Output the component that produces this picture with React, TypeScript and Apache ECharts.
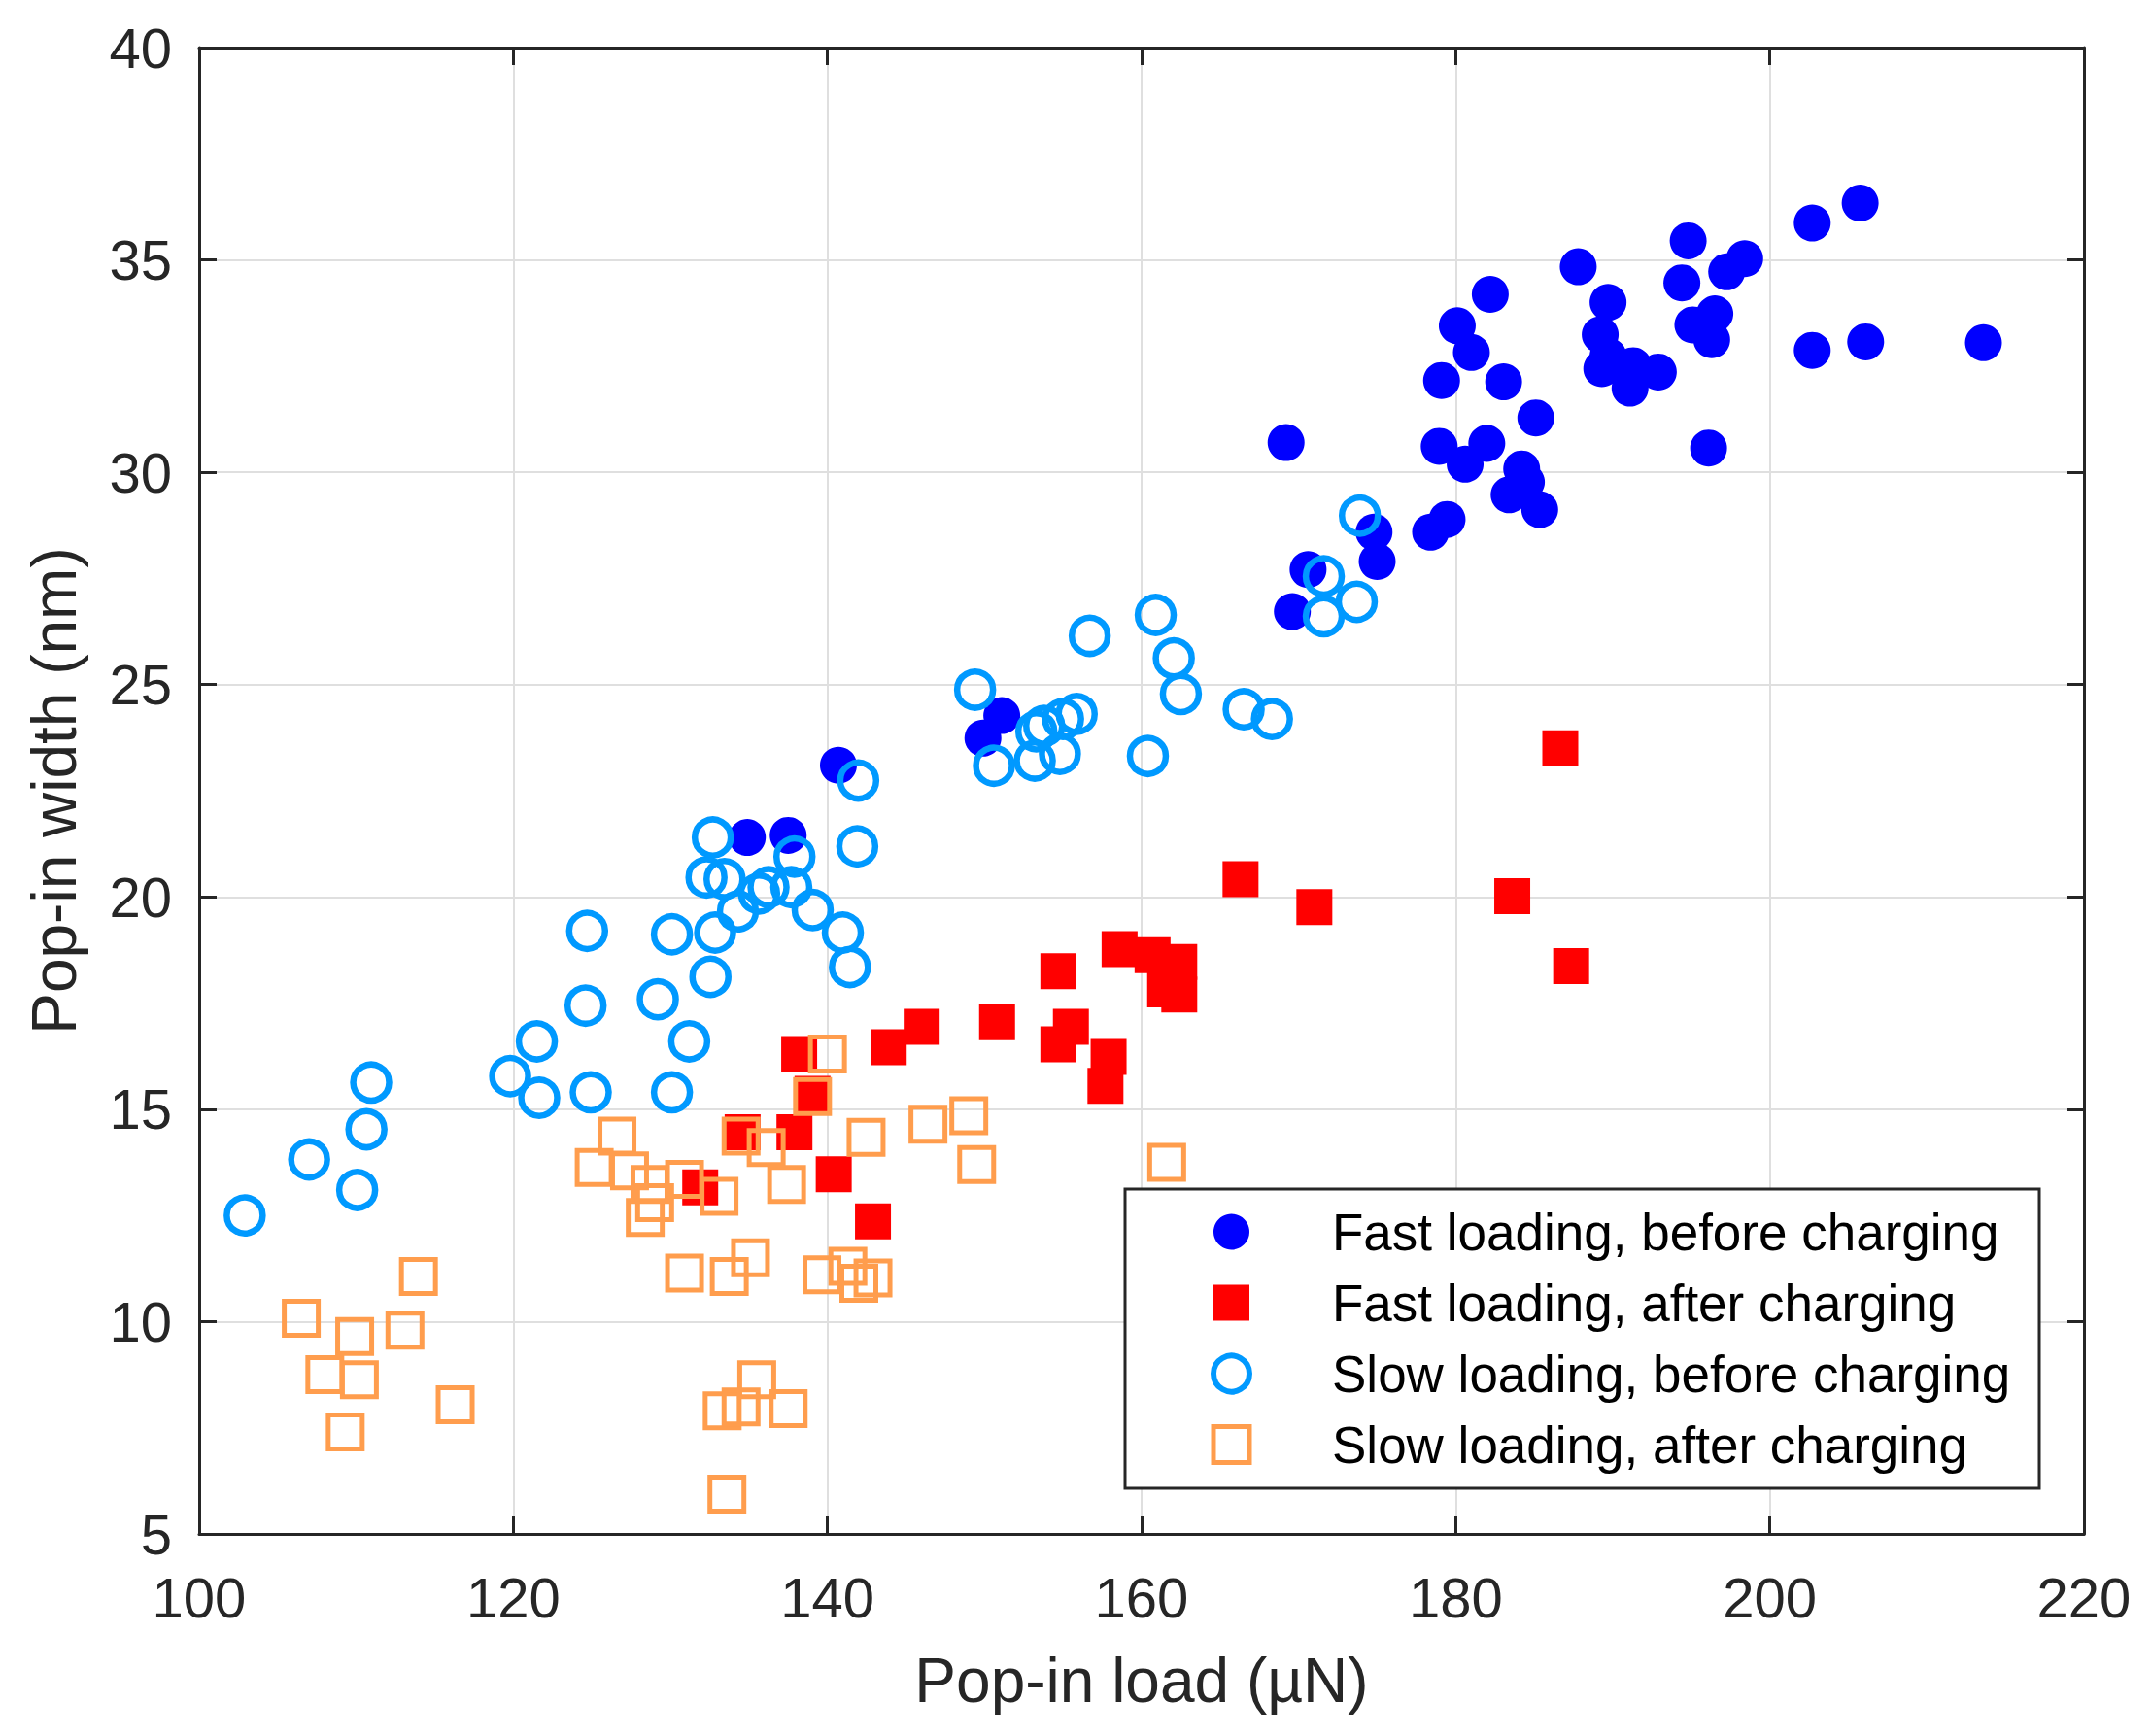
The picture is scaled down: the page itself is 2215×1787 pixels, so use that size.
import React, { useEffect, useRef } from "react";
import * as echarts from "echarts";

const xTicks = { min: 100, max: 220, interval: 20 };
const yTicks = { min: 5, max: 40, interval: 5 };

const seriesNames = [
  "Fast loading, before charging",
  "Fast loading, after charging",
  "Slow loading, before charging",
  "Slow loading, after charging",
];

const fastBefore: [number, number][] = [
  [134.9, 21.4], [137.5, 21.45], [140.7, 23.1], [149.9, 23.74], [151.1, 24.27],
  [169.2, 30.7], [169.6, 26.72], [170.6, 27.71], [174.8, 28.59], [175.0, 27.9],
  [178.4, 28.59], [179.45, 28.89], [178.95, 30.61], [179.1, 32.16], [180.1, 33.45],
  [181.0, 32.82], [180.6, 30.19], [181.98, 30.68], [182.2, 34.19], [183.05, 32.13],
  [183.4, 29.47], [184.2, 30.08], [184.5, 29.77], [185.35, 29.12], [185.1, 31.28],
  [187.8, 34.84], [189.7, 34.0], [189.2, 33.24], [189.3, 32.44], [189.7, 32.74],
  [191.1, 31.98], [191.3, 32.51], [192.9, 32.36], [194.8, 35.45], [194.4, 34.46],
  [197.25, 34.72], [198.4, 35.03], [195.1, 33.47], [196.5, 33.73], [196.3, 33.12],
  [196.1, 30.57], [202.7, 35.87], [205.75, 36.34], [202.7, 32.87], [206.1, 33.07],
  [213.6, 33.05],
];

const fastAfter: [number, number][] = [
  [131.9, 13.16], [134.6, 14.46], [137.9, 14.46], [138.2, 16.3], [139.05, 15.36],
  [140.4, 13.47], [142.9, 12.36], [143.9, 16.46], [146.0, 16.94], [150.8, 17.05],
  [154.7, 18.25], [154.7, 16.53], [155.5, 16.94], [157.9, 16.23], [157.7, 15.55],
  [158.6, 18.77], [160.7, 18.63], [162.4, 18.47], [161.5, 17.82], [162.4, 17.7],
  [166.3, 20.42], [171.0, 19.76], [183.6, 20.02], [186.66, 23.5], [187.35, 18.37],
];

const slowBefore: [number, number][] = [
  [102.9, 12.5], [107.0, 13.82], [110.06, 13.1], [110.65, 14.53], [110.95, 15.63],
  [119.8, 15.78], [121.5, 16.6], [121.65, 15.27], [124.6, 17.44], [124.7, 19.2],
  [124.93, 15.4], [129.2, 17.59], [130.1, 19.12], [130.1, 15.4], [131.2, 16.6],
  [132.55, 18.12], [132.85, 19.16], [132.3, 20.46], [132.7, 21.4], [133.45, 20.42],
  [134.3, 19.66], [135.65, 20.08], [136.25, 20.23], [137.7, 20.23], [137.9, 20.95],
  [139.06, 19.69], [140.98, 19.16], [141.43, 18.35], [141.9, 21.19], [141.96, 22.74],
  [149.4, 24.88], [150.6, 23.09], [153.2, 23.21], [153.3, 23.9], [153.8, 24.03],
  [155.0, 24.19], [154.8, 23.37], [155.87, 24.31], [156.7, 26.15], [160.4, 23.32],
  [160.9, 26.64], [162.05, 25.62], [162.5, 24.78], [166.5, 24.42], [168.3, 24.19],
  [171.6, 27.55], [171.6, 26.61], [173.7, 26.95], [173.9, 28.98],
];

const slowAfter: [number, number][] = [
  [106.5, 10.08], [108.0, 8.75], [109.3, 7.4], [109.9, 9.65], [110.2, 8.63],
  [113.1, 9.8], [113.96, 11.06], [116.3, 8.04], [125.15, 13.63], [126.6, 14.37],
  [127.4, 13.55], [128.4, 12.45], [128.7, 13.23], [129.0, 12.8], [130.9, 13.35],
  [130.9, 11.14], [133.1, 12.95], [133.75, 11.06], [133.3, 7.9], [133.6, 5.94],
  [134.5, 7.99], [134.5, 14.37], [135.1, 11.5], [135.5, 8.63], [136.1, 14.1],
  [137.4, 13.23], [137.5, 7.95], [139.05, 15.3], [139.65, 11.1], [140.0, 16.3],
  [141.3, 11.3], [142.0, 10.9], [142.9, 11.03], [142.46, 14.34], [146.4, 14.65],
  [149.0, 14.85], [149.5, 13.7], [161.6, 13.75],
];

const FONT = "'Liberation Sans', Arial, Helvetica, sans-serif";
const AXIS_COLOR = "#262626";
const GRID_COLOR = "#dfdfdf";
const BLUE = "#0000ff";
const RED = "#ff0000";
const LIGHT_BLUE = "#0099ff";
const ORANGE = "#ff9d4d";

export default function App() {
  const ref = useRef<HTMLDivElement>(null);

  useEffect(() => {
    document.body.style.margin = "0";
    const chart = echarts.init(ref.current!, undefined, { renderer: "svg" });

    const axisLine = { show: true, onZero: false, lineStyle: { color: AXIS_COLOR, width: 3 } };
    const axisTick = { show: true, inside: true, length: 18, lineStyle: { color: AXIS_COLOR, width: 3 } };

    const option: any = {
      animation: false,
      backgroundColor: "#ffffff",
      grid: {
        left: 205,
        right: 70,
        top: 49,
        bottom: 208,
        containLabel: false,
        outerBoundsMode: "none",
      },
      xAxis: [
        {
          type: "value",
          position: "bottom",
          ...xTicks,
          axisLine,
          axisTick,
          axisLabel: {
            show: true,
            fontSize: 58,
            color: AXIS_COLOR,
            fontFamily: FONT,
            margin: 36,
            showMinLabel: true,
            showMaxLabel: true,
          },
          splitLine: { show: true, lineStyle: { color: GRID_COLOR, width: 2 } },
          name: "Pop-in load (µN)",
          nameLocation: "middle",
          nameGap: 119,
          nameTextStyle: { fontSize: 64, color: AXIS_COLOR, fontFamily: FONT },
        },
        {
          type: "value",
          position: "top",
          ...xTicks,
          axisLine,
          axisTick,
          axisLabel: { show: false },
          splitLine: { show: false },
        },
      ],
      yAxis: [
        {
          type: "value",
          position: "left",
          ...yTicks,
          axisLine,
          axisTick,
          axisLabel: {
            show: true,
            fontSize: 58,
            color: AXIS_COLOR,
            fontFamily: FONT,
            margin: 28,
            showMinLabel: true,
            showMaxLabel: true,
          },
          splitLine: { show: true, lineStyle: { color: GRID_COLOR, width: 2 } },
          name: "Pop-in width (nm)",
          nameLocation: "middle",
          nameGap: 117,
          nameTextStyle: { fontSize: 64, color: AXIS_COLOR, fontFamily: FONT },
        },
        {
          type: "value",
          position: "right",
          ...yTicks,
          axisLine,
          axisTick,
          axisLabel: { show: false },
          splitLine: { show: false },
        },
      ],
      legend: {
        orient: "vertical",
        left: 1246,
        top: 1238,
        padding: 0,
        itemWidth: 37,
        itemHeight: 37,
        itemGap: 13,
        selectedMode: false,
        textStyle: {
          fontSize: 53,
          lineHeight: 60,
          color: "#000000",
          fontFamily: FONT,
          padding: [0, 0, 0, 80],
        },
        data: [
          { name: seriesNames[0], icon: "circle", itemStyle: { color: BLUE, borderWidth: 0, opacity: 1 } },
          { name: seriesNames[1], icon: "rect", itemStyle: { color: RED, borderWidth: 0, opacity: 1 } },
          {
            name: seriesNames[2],
            icon: "circle",
            itemStyle: { color: "rgba(0,0,0,0)", borderColor: LIGHT_BLUE, borderWidth: 6, opacity: 1 },
          },
          {
            name: seriesNames[3],
            icon: "rect",
            itemStyle: { color: "rgba(0,0,0,0)", borderColor: ORANGE, borderWidth: 5, opacity: 1 },
          },
        ],
      },
      graphic: [
        {
          type: "rect",
          z: 3,
          shape: { x: 1158, y: 1224, width: 941, height: 308 },
          style: { fill: "#ffffff", stroke: AXIS_COLOR, lineWidth: 3 },
        },
      ],
      series: [
        {
          name: seriesNames[0],
          type: "scatter",
          data: fastBefore,
          symbol: "circle",
          symbolSize: 38,
          itemStyle: { color: BLUE, opacity: 1 },
          emphasis: { disabled: true },
        },
        {
          name: seriesNames[1],
          type: "scatter",
          data: fastAfter,
          symbol: "rect",
          symbolSize: 37,
          itemStyle: { color: RED, opacity: 1 },
          emphasis: { disabled: true },
        },
        {
          name: seriesNames[2],
          type: "scatter",
          data: slowBefore,
          symbol: "circle",
          symbolSize: 37,
          itemStyle: { color: "rgba(0,0,0,0)", borderColor: LIGHT_BLUE, borderWidth: 6.5, opacity: 1 },
          emphasis: { disabled: true },
        },
        {
          name: seriesNames[3],
          type: "scatter",
          data: slowAfter,
          symbol: "rect",
          symbolSize: 35,
          itemStyle: { color: "rgba(0,0,0,0)", borderColor: ORANGE, borderWidth: 5, opacity: 1 },
          emphasis: { disabled: true },
        },
      ],
    };

    chart.setOption(option);
    return () => chart.dispose();
  }, []);

  return (
    <div
      ref={ref}
      style={{ position: "absolute", left: 0, top: 0, width: 2215, height: 1787, background: "#fff" }}
    />
  );
}
